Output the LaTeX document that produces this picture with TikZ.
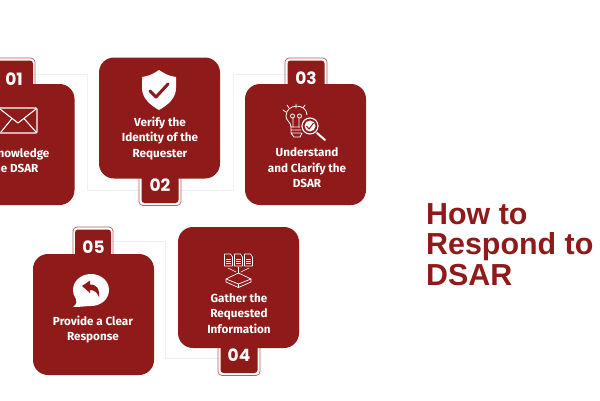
\documentclass[tikz,border=0pt]{standalone}
\usepackage{fontspec}
\setmainfont{Fira Sans}
\newfontfamily\titlefont{Liberation Sans}
\newfontfamily\numfont{Poppins}
\definecolor{brick}{HTML}{8F1A1A}
\definecolor{pale}{HTML}{F1F1F1}
\tikzset{
 x=1pt,y=-1pt,
 cardbox/.style={fill=brick,rounded corners=15pt,minimum width=121pt,minimum height=121pt,draw=none,inner sep=0pt},
 tabfill/.style={fill=brick,rounded corners=3pt,draw=none},
 tabline/.style={draw=brick!70!white,line width=.7pt,rounded corners=4pt},
 faint/.style={draw=pale,line width=.8pt},
 cardtext/.style={text=white,font=\bfseries\fontsize{11.7}{15.5}\selectfont,align=center,inner sep=0pt},
 numtext/.style={text=white,font=\numfont\bfseries\fontsize{17}{18}\selectfont,inner sep=0pt},
 icon/.style={draw=white,line width=.8pt,fill=none,line join=round,line cap=round},
}
\begin{document}
\begin{tikzpicture}
\useasboundingbox (0,0) rectangle (600,400);
\fill[white] (0,0) rectangle (600,400);
% connectors
\coordinate (c1) at (87,74); \coordinate (c2) at (87,190);
\coordinate (c3) at (233,190); \coordinate (c4) at (233,74);
\coordinate (c5) at (165,241); \coordinate (c6) at (165,358);
\node[inner sep=0pt,minimum width=38pt,minimum height=26pt] (t1) at (14,71) {};
\node[inner sep=0pt,minimum width=38pt,minimum height=26pt] (t2) at (160,192) {};
\node[inner sep=0pt,minimum width=38pt,minimum height=26pt] (t3) at (306,71) {};
\node[inner sep=0pt,minimum width=38pt,minimum height=26pt] (t4) at (239,362) {};
\node[inner sep=0pt,minimum width=38pt,minimum height=26pt] (t5) at (93,241) {};
\draw[faint] (t1.east |- c1) -- (c1) -- (c2) -- (t2.west |- c2);
\draw[faint] (t2.east |- c3) -- (c3) -- (c4) -- (t3.west |- c4);
\draw[faint] (t5.east |- c5) -- (c5) -- (c6) -- (t4.west |- c6);
% tab outlines
\draw[tabline] (-7,86) -- (-7,58) -- (35,58) -- (35,86);
\draw[tabline] (139,176) -- (139,205.5) -- (181,205.5) -- (181,176);
\draw[tabline] (285,86) -- (285,58) -- (327,58) -- (327,86);
\draw[tabline] (218,346) -- (218,375.5) -- (260,375.5) -- (260,346);
\draw[tabline] (73,256) -- (73,227) -- (113,227) -- (113,256);
% tab fills
\fill[tabfill] (-5,90) rectangle (33,60.5);
\fill[tabfill] (141.5,170) rectangle (178.5,203);
\fill[tabfill] (287.5,90) rectangle (324.5,60.5);
\fill[tabfill] (220.5,340) rectangle (257.5,373);
\fill[tabfill] (75,260) rectangle (111,229.5);
% cards
\node[cardbox] (a) at (14,144.5) {};
\node[cardbox] (b) at (159.5,118) {};
\node[cardbox] (c) at (305.5,144.5) {};
\node[cardbox] (d) at (238.5,287.5) {};
\node[cardbox] (e) at (93.5,314.5) {};
% numbers
\node[numtext] at (14,79) {01};
\node[numtext] at (160,185.5) {02};
\node[numtext] at (306,78.5) {03};
\node[numtext] at (239,355) {04};
\node[numtext] at (93.5,247.5) {05};
% texts
\node[cardtext] at (14,160.5) {Acknowledge\\the DSAR};
\node[cardtext] at (160,138.5) {Verify the\\Identity of the\\Requester};
\node[cardtext] at (307,168) {Understand\\and Clarify the\\DSAR};
\node[cardtext] at (239,313.5) {Gather the\\Requested\\Information};
\node[cardtext] at (93,329.5) {Provide a Clear\\Response};
% title
\node[anchor=west,text=brick,font=\titlefont\bfseries\fontsize{30.4}{30.5}\selectfont,align=left,inner sep=0pt] at (426,244.5) {How to\\Respond to\\DSAR};
% envelope
\draw[icon,line width=1.2pt,rounded corners=1pt] (-1,108) rectangle (37,133);
\draw[icon,line width=1.1pt] (0,109) -- (18,123) -- (36,109) (1,132) -- (12,118.5) (36,132) -- (24,118.5);
% shield
\fill[white] (159,70) .. controls (150,76) and (147,76) .. (142,77) -- (142,88) .. controls (142,98) and (150,105) .. (159,110) .. controls (168,105) and (176,98) .. (176,88) -- (176,77) .. controls (171,76) and (168,76) .. (159,70) -- cycle;
\draw[draw=brick,line width=3pt,line cap=round,line join=round] (150,91) -- (156,97) -- (168,84);
% bulb
\draw[icon] (300,127) -- (291,127) .. controls (291,122) and (286,121) .. (286,116) .. controls (286,103) and (307,103) .. (307,115);
\draw[icon] (291,127) -- (291,133) -- (294,137) -- (300,137) -- (302,133) (291,130) -- (301,130) (291,133) -- (301,133);
\draw[icon] (292.5,116) circle (2pt) (299.5,116) circle (2pt) (293,118) -- (293,127) (299,118) -- (299,127);
\draw[icon] (296,104) -- (296,108) (287,105) -- (289,108) (305,105) -- (303,108) (283,110) -- (286,112);
\draw[icon,fill=brick,line width=1.1pt] (310,126) circle (8pt);
\fill[white] (310,126) circle (5.5pt);
\draw[draw=brick,line width=1pt] (306.5,126) -- (309,129) -- (313.5,123);
\draw[icon,line width=2pt] (317,133) -- (325,140);
% documents
\foreach \cx in {228.5,238.5,248.5}{
 \draw[icon,line width=.6pt] (\cx-4,254) -- (\cx+2,254) -- (\cx+4,257) -- (\cx+4,266) -- (\cx-4,266) -- cycle;
 \draw[icon,line width=.6pt] (\cx-2,259) -- (\cx+2,259) (\cx-2,261) -- (\cx+2,261) (\cx-2,263) -- (\cx+2,263);
}
\draw[icon,line width=.6pt] (228,268) -- (236,272) (238.5,267) -- (238.5,273) (249,268) -- (241,272);
\draw[icon,line width=.7pt] (238.5,273) -- (251,279) -- (238.5,284) -- (226,279) -- cycle;
\draw[icon,line width=.7pt] (226,279) -- (226,282) -- (238.5,287.5) -- (251,282) -- (251,279) (238.5,284) -- (238.5,287.5);
% speech bubble
\fill[white] (91,274) .. controls (101,274) and (109,281) .. (109,290) .. controls (109,299) and (101,306) .. (91,306) .. controls (86,306) and (81,307) .. (73,307) .. controls (77,304) and (77,301) .. (76,299) .. controls (74,296) and (73,293) .. (73,290) .. controls (73,281) and (81,274) .. (91,274) -- cycle;
\fill[brick] (82,286) -- (90,280.5) -- (90,284.5) .. controls (97,284.5) and (100,289) .. (99,297) .. controls (97,292) and (94,290) .. (90,290) -- (90,293) -- cycle;
\end{tikzpicture}
\end{document}
